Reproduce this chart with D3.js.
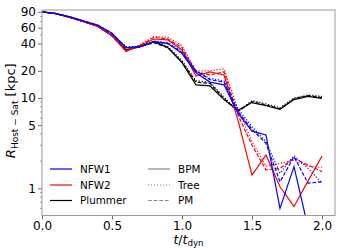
<!DOCTYPE html>
<html>
<head>
<meta charset="utf-8">
<script src="https://cdn.jsdelivr.net/npm/d3@7"></script>
<style>
  body { margin: 0; background: #fff; }
  text { font-family: "DejaVu Sans", sans-serif; fill: #000; }
</style>
</head>
<body>
<svg id="chart" width="349" height="249"></svg>
<script>
const times = [0.0, 0.1, 0.2, 0.3, 0.4, 0.5, 0.6, 0.7, 0.8, 0.9, 1.0,
  1.1, 1.2, 1.3, 1.4, 1.5, 1.6, 1.7, 1.8, 1.9, 2.0];

// NFW1 (blue)
const nfw1Bpm = [90, 86, 79, 71, 64, 52, 36, 37, 42, 40, 31, 19, 15, 14, 6.8, 4.3, 3.9, 0.6, 1.74, 0.37, 0.3];
const nfw1Tree = [90, 86, 79, 71, 64, 52, 37, 37, 43, 41, 33, 20, 16.5, 15.5, 7.6, 4.8, 3.3, 1.47, 2.3, 1.67, 1.14];
const nfw1Pm = [90, 86, 79, 71, 64, 51, 36, 37, 42, 40, 32, 20, 16, 15, 7.1, 4.5, 3.15, 1.18, 2.24, 1.14, 1.18];

// NFW2 (red)
const nfw2Bpm = [90, 86, 78, 70, 62, 49, 33, 38, 45, 44, 34, 17.5, 19.5, 18, 5.7, 1.4, 2.34, 1.04, 0.63, 1.2, 2.28];
const nfw2Tree = [90, 86, 78, 70, 62, 49, 33, 39, 48, 47, 38, 20, 20, 21, 7.5, 3.3, 1.76, 1.89, 2.05, 1.76, 1.7];
const nfw2Pm = [90, 86, 78, 70, 62, 49, 33, 38, 47, 45, 36, 19.5, 18, 19.5, 6.5, 3.0, 1.6, 1.66, 2.15, 1.81, 1.53];

// Plummer (black)
const plumBpm = [90, 86, 78, 70, 62, 49, 34, 37, 42, 36, 24.6, 14, 13.6, 9.6, 7.3, 8.9, 8.2, 7.5, 9.6, 10.4, 9.9];
const plumTree = [90, 86, 78, 70, 62, 49, 34, 37, 42, 37, 26, 15.5, 15, 10.2, 7.0, 9.4, 8.6, 7.8, 10.0, 10.8, 10.4];
const plumPm = [90, 86, 78, 70, 62, 49, 34, 37, 41, 36, 25, 15, 14.5, 9.9, 7.1, 9.1, 8.4, 7.6, 9.8, 10.6, 10.1];

const xTicks = [0.0, 0.5, 1.0, 1.5, 2.0];
const yTicks = [1, 5, 10, 20, 40, 60, 90];
const yMinor = [0.6, 0.7, 0.8, 0.9, 2, 3, 4, 6, 7, 8, 9, 30, 50, 70, 80];

const models = [
  { name: 'NFW1', color: '#0000ff', runs: [nfw1Bpm, nfw1Tree, nfw1Pm] },
  { name: 'NFW2', color: '#ff0000', runs: [nfw2Bpm, nfw2Tree, nfw2Pm] },
  { name: 'Plummer', color: '#000000', runs: [plumBpm, plumTree, plumPm] },
];
const codes = ['BPM', 'Tree', 'PM'];
const dashes = [null, '1.2,1.8', '3.8,1.8'];

const svg = d3.select('#chart');
const plotL = 42, plotR = 335, plotT = 10, plotB = 215.5;

const x = d3.scaleLinear().domain([0, 2.093]).range([plotL, plotR]);
const y = d3.scaleLog().domain([0.5, 94.3]).range([plotB, plotT]);

svg.append('clipPath').attr('id', 'clip')
  .append('rect')
  .attr('x', plotL).attr('y', plotT)
  .attr('width', plotR - plotL).attr('height', plotB - plotT);

const line = d3.line()
  .x((d, i) => x(times[i]))
  .y(d => y(d));

const plot = svg.append('g').attr('clip-path', 'url(#clip)');

// black underneath, then red, blue on top
[2, 1, 0].forEach(mi => {
  const m = models[mi];
  [2, 1, 0].forEach(ri => {
    plot.append('path')
      .datum(m.runs[ri])
      .attr('d', line)
      .attr('fill', 'none')
      .attr('stroke', m.color)
      .attr('stroke-width', 1.2)
      .attr('stroke-dasharray', dashes[ri]);
  });
});

// axes
const xAxis = d3.axisBottom(x).tickValues(xTicks)
  .tickFormat(d3.format('.1f')).tickSize(4).tickPadding(1.5);
const yAxis = d3.axisLeft(y).tickValues(yTicks)
  .tickFormat(d => d).tickSize(4).tickPadding(2);

const gx = svg.append('g').attr('transform', `translate(0,${plotB})`).call(xAxis);
const gy = svg.append('g').attr('transform', `translate(${plotL},0)`).call(yAxis);

svg.append('g').attr('transform', `translate(${plotL},0)`)
  .selectAll('line').data(yMinor).enter().append('line')
  .attr('x1', -2).attr('x2', 0)
  .attr('y1', d => y(d)).attr('y2', d => y(d))
  .attr('stroke', '#555').attr('stroke-width', 0.6);

[gx, gy].forEach(g => {
  g.select('.domain').remove();
  g.selectAll('.tick line').attr('stroke', '#444').attr('stroke-width', 0.8);
  g.selectAll('.tick text').attr('font-size', 12).attr('fill', '#000')
    .style('font-family', '"DejaVu Sans", sans-serif');
});

// frame
svg.append('rect')
  .attr('x', plotL).attr('y', plotT)
  .attr('width', plotR - plotL).attr('height', plotB - plotT)
  .attr('fill', 'none').attr('stroke', '#999').attr('stroke-width', 1);

// x label
const xl = svg.append('text')
  .attr('x', (plotL + plotR) / 2).attr('y', 244)
  .attr('text-anchor', 'middle').attr('font-size', 12.5);
xl.append('tspan').attr('font-style', 'italic').text('t');
xl.append('tspan').text('/');
xl.append('tspan').attr('font-style', 'italic').text('t');
xl.append('tspan').attr('font-size', 8.7).attr('dy', 2).text('dyn');

// y label
const yl = svg.append('text')
  .attr('transform', `translate(15,${(plotT + plotB) / 2 - 2}) rotate(-90)`)
  .attr('text-anchor', 'middle').attr('font-size', 13);
yl.append('tspan').attr('font-style', 'italic').text('R');
yl.append('tspan').attr('font-size', 9).attr('dy', 2.5).text('Host − Sat');
yl.append('tspan').attr('dy', -2.5).text(' [kpc]');

// legend
const leg = svg.append('g');
const rowY = [169, 185, 200.5];
models.forEach((m, i) => {
  leg.append('line')
    .attr('x1', 50).attr('x2', 72).attr('y1', rowY[i]).attr('y2', rowY[i])
    .attr('stroke', m.color).attr('stroke-width', 1.2);
  leg.append('text').attr('x', 80).attr('y', rowY[i] + 3.7)
    .attr('font-size', 10.4).text(m.name);
});
codes.forEach((c, i) => {
  leg.append('line')
    .attr('x1', 148).attr('x2', 170).attr('y1', rowY[i]).attr('y2', rowY[i])
    .attr('stroke', '#888').attr('stroke-width', 1.2)
    .attr('stroke-dasharray', dashes[i]);
  leg.append('text').attr('x', 178).attr('y', rowY[i] + 3.7)
    .attr('font-size', 10.4).text(c);
});
</script>
</body>
</html>
